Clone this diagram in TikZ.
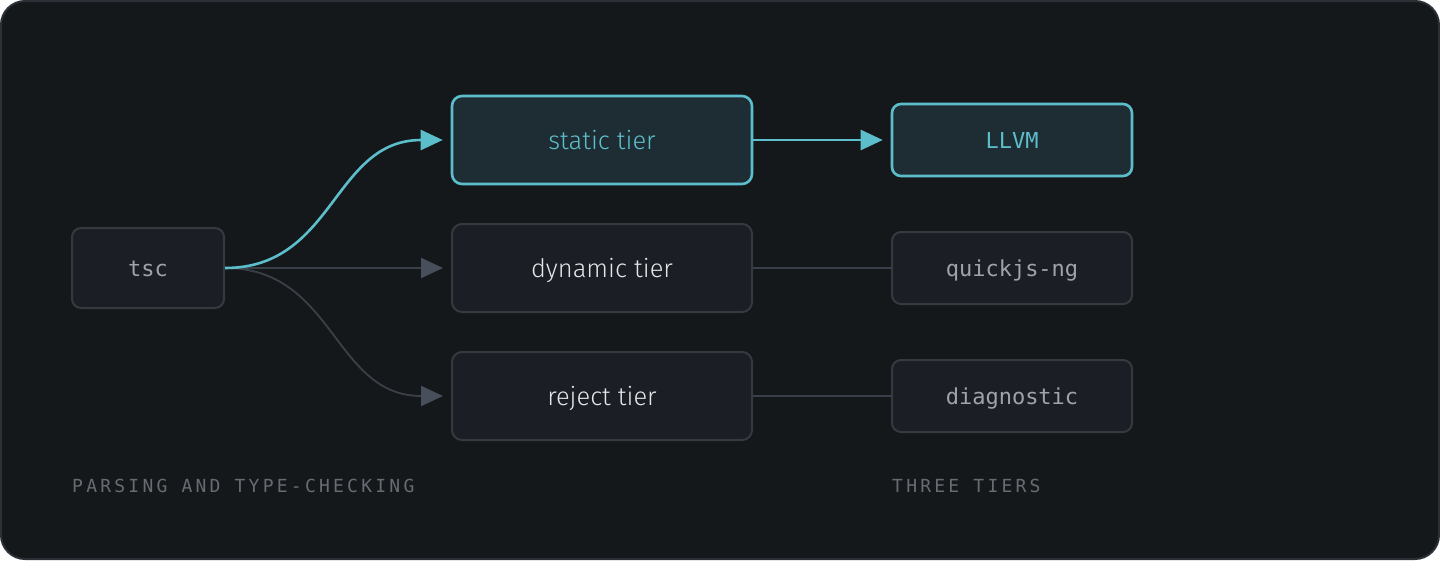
\documentclass[tikz,border=0pt]{standalone}
\usepackage{fontspec}
\setmainfont{Fira Sans Light}
\newfontfamily\codefont{DejaVu Sans Mono}
\newfontfamily\capsfont[LetterSpace=18]{DejaVu Sans Mono}
\usetikzlibrary{arrows.meta}

\definecolor{canvas}{HTML}{15181B}
\definecolor{frame}{HTML}{2C3036}
\definecolor{boxfill}{HTML}{1B1E24}
\definecolor{boxline}{HTML}{353A41}
\definecolor{hotfill}{HTML}{1E2C33}
\definecolor{teal}{HTML}{5DBECB}
\definecolor{wire}{HTML}{3A4047}
\definecolor{tipgray}{HTML}{47505A}
\definecolor{bright}{HTML}{E4E6E9}
\definecolor{codegray}{HTML}{A0A4AA}
\definecolor{caption}{HTML}{676C73}

\tikzset{
  x=1pt, y=-1pt,
  tierbox/.style={draw=boxline, fill=boxfill, line width=2pt, rounded corners=10pt,
    minimum width=300pt, minimum height=88pt, inner sep=0pt,
    text height=20pt, text depth=2pt,
    text=bright, font=\fontsize{25.5}{28}\selectfont},
  hotbox/.style={tierbox, draw=teal, fill=hotfill, line width=2.6pt, text=teal},
  backbox/.style={draw=boxline, fill=boxfill, line width=2pt, rounded corners=9pt,
    minimum width=240pt, minimum height=72pt, inner sep=0pt,
    text height=18pt, text depth=2pt,
    text=codegray, font=\codefont\fontsize{22}{25}\selectfont},
  hotback/.style={backbox, draw=teal, fill=hotfill, line width=2.6pt, text=teal},
  srcbox/.style={backbox, minimum width=152pt, minimum height=80pt},
  wireline/.style={draw=wire, line width=1.8pt},
  wirearrow/.style={wireline, -{Triangle[length=22pt,width=20pt,color=tipgray]}},
  hotarrow/.style={draw=teal, line width=2.6pt, -{Triangle[length=22pt,width=20pt]}},
  caption/.style={anchor=base west, inner sep=0pt, text=caption,
    font=\capsfont\fontsize{18}{20}\selectfont},
}

\begin{document}
\begin{tikzpicture}
  % page and rounded panel
  \fill[white] (0,0) rectangle (1440,560);
  \useasboundingbox (0,0) rectangle (1440,560);
  \draw[fill=canvas, draw=frame, line width=2pt, rounded corners=24pt]
    (1,1) rectangle (1439,559);

  % front end
  \node[srcbox] (tsc) at (148,268) {tsc};

  % tiers
  \node[hotbox]  (static)  at (602,140) {static tier};
  \node[tierbox] (dynamic) at (602,268) {dynamic tier};
  \node[tierbox] (reject)  at (602,396) {reject tier};

  % back ends
  \node[hotback]  (llvm)  at (1012,140) {LLVM};
  \node[backbox]  (qjs)   at (1012,268) {quickjs-ng};
  \node[backbox]  (diag)  at (1012,396) {diagnostic};

  % arrow end points, just short of the tier boxes
  \coordinate (inS) at ([xshift=-8pt]static.west);
  \coordinate (inD) at ([xshift=-8pt]dynamic.west);
  \coordinate (inR) at ([xshift=-8pt]reject.west);
  \coordinate (inL) at ([xshift=-8pt]llvm.west);

  % dispatch from tsc
  \draw[wirearrow] (tsc.east) .. controls ([xshift=110pt]tsc.east) and ([xshift=-110pt]inR) .. (inR);
  \draw[wirearrow] (tsc.east) -- (inD);
  \draw[hotarrow] (tsc.east) .. controls ([xshift=110pt]tsc.east) and ([xshift=-110pt]inS) .. (inS);

  % tiers to back ends
  \draw[hotarrow] (static.east) -- (inL);
  \draw[wireline] (dynamic.east) -- (qjs.west);
  \draw[wireline] (reject.east) -- (diag.west);

  % captions
  \node[caption] (capA) at (72,492) {PARSING AND TYPE-CHECKING};
  \node[caption] (capB) at (892,492) {THREE TIERS};
\end{tikzpicture}
\end{document}
